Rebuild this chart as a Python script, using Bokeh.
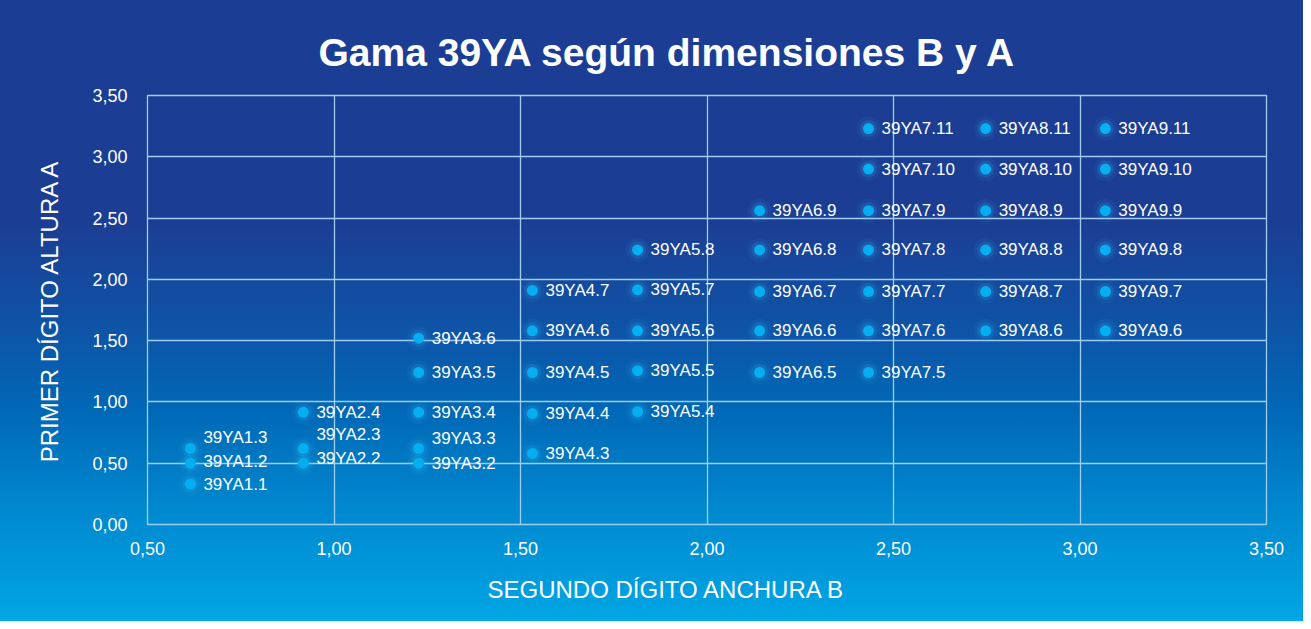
from bokeh.plotting import figure
from bokeh.models import ColumnDataSource, FixedTicker, Title
from bokeh.core.properties import value
from bokeh.embed import file_html
from bokeh.resources import INLINE

# ---- data ----
names = ["39YA1.1", "39YA1.2", "39YA1.3",
         "39YA2.2", "39YA2.3", "39YA2.4",
         "39YA3.2", "39YA3.3", "39YA3.4", "39YA3.5", "39YA3.6",
         "39YA4.3", "39YA4.4", "39YA4.5", "39YA4.6", "39YA4.7",
         "39YA5.4", "39YA5.5", "39YA5.6", "39YA5.7", "39YA5.8",
         "39YA6.5", "39YA6.6", "39YA6.7", "39YA6.8", "39YA6.9",
         "39YA7.5", "39YA7.6", "39YA7.7", "39YA7.8", "39YA7.9", "39YA7.10", "39YA7.11",
         "39YA8.6", "39YA8.7", "39YA8.8", "39YA8.9", "39YA8.10", "39YA8.11",
         "39YA9.6", "39YA9.7", "39YA9.8", "39YA9.9", "39YA9.10", "39YA9.11"]
anchura_b = [0.615, 0.615, 0.615,
             0.918, 0.918, 0.918,
             1.227, 1.227, 1.227, 1.227, 1.227,
             1.532, 1.532, 1.532, 1.532, 1.532,
             1.814, 1.814, 1.814, 1.814, 1.814,
             2.141, 2.141, 2.141, 2.141, 2.141,
             2.433, 2.433, 2.433, 2.433, 2.433, 2.433, 2.433,
             2.747, 2.747, 2.747, 2.747, 2.747, 2.747,
             3.068, 3.068, 3.068, 3.068, 3.068, 3.068]
altura_a = [0.33, 0.50, 0.62,
            0.50, 0.62, 0.915,
            0.50, 0.62, 0.915, 1.24, 1.52,
            0.58, 0.905, 1.24, 1.58, 1.91,
            0.92, 1.255, 1.58, 1.915, 2.24,
            1.24, 1.58, 1.90, 2.24, 2.56,
            1.24, 1.58, 1.90, 2.24, 2.56, 2.90, 3.23,
            1.58, 1.90, 2.24, 2.56, 2.90, 3.23,
            1.58, 1.90, 2.24, 2.56, 2.90, 3.23]
tick_values = [0.0, 0.5, 1.0, 1.5, 2.0, 2.5, 3.0, 3.5]
tick_labels = ["0,00", "0,50", "1,00", "1,50", "2,00", "2,50", "3,00", "3,50"]
title_text = "Gama 39YA según dimensiones B y A"
x_title = "SEGUNDO DÍGITO ANCHURA B"
y_title = "PRIMER DÍGITO ALTURA A"

# label vertical nudges (style only, pixels)
label_nudge = {"39YA1.3": -11, "39YA1.2": -2, "39YA2.3": -14, "39YA2.2": -5, "39YA3.3": -10}
dy = [label_nudge.get(n, 0) for n in names]

src = ColumnDataSource(dict(x=anchura_b, y=altura_a, name=names, dy=dy))

FONT = "Liberation Sans"
W, H = 1303, 621
p = figure(width=W, height=H, output_backend="svg", toolbar_location=None,
           x_range=(0.5, 3.5), y_range=(0.0, 3.5),
           min_border_left=147, min_border_right=37, min_border_top=95, min_border_bottom=97)

p.background_fill_alpha = 0
p.border_fill_alpha = 0
p.styles = {"background": "linear-gradient(to bottom, #1b3e94 0%, #1b3e94 36%, #0d55a8 54%, #0068b6 66%, #0088cf 82%, #00a6e5 100%)"}

p.title = Title(text=title_text, align="left", offset=171,
                text_font=FONT, text_font_size="39px", text_font_style="bold",
                text_color="white", standoff=44)

grid_col = "#9fcdf0"
p.outline_line_color = grid_col
p.outline_line_width = 1.3
for g in (p.xgrid, p.ygrid):
    g.grid_line_color = grid_col
    g.grid_line_width = 1.3

p.xaxis.ticker = FixedTicker(ticks=tick_values)
p.yaxis.ticker = FixedTicker(ticks=tick_values)
p.xaxis.major_label_overrides = dict(zip(tick_values, tick_labels))
p.yaxis.major_label_overrides = dict(zip(tick_values, tick_labels))

for ax in (p.xaxis, p.yaxis):
    ax.axis_line_color = None
    ax.major_tick_line_color = None
    ax.minor_tick_line_color = None
    ax.major_label_text_color = "white"
    ax.major_label_text_font = FONT
    ax.major_label_text_font_size = "18px"
    ax.axis_label_text_color = "white"
    ax.axis_label_text_font = FONT
    ax.axis_label_text_font_size = "24px"
    ax.axis_label_text_font_style = "normal"

p.yaxis.axis_label = y_title
p.xaxis.major_label_standoff = 11
p.yaxis.major_label_standoff = 14
p.yaxis.axis_label_standoff = 26

p.add_layout(Title(text=x_title, align="left", offset=340, text_font=FONT,
                   text_font_size="24px", text_font_style="normal",
                   text_color="white", standoff=33), "below")

# glow
p.scatter("x", "y", source=src, size=24, color="#39bff5", alpha=0.07, line_color=None)
p.scatter("x", "y", source=src, size=17, color="#39bff5", alpha=0.14, line_color=None)
p.scatter("x", "y", source=src, size=11, color="#05aef0", line_color=None)

p.text("x", "y", text="name", source=src, x_offset=13, y_offset="dy",
       text_baseline="middle", text_align="left", text_color="white",
       text_font=value(FONT), text_font_size="17px")

open("out.html", "w").write(file_html(p, INLINE))
